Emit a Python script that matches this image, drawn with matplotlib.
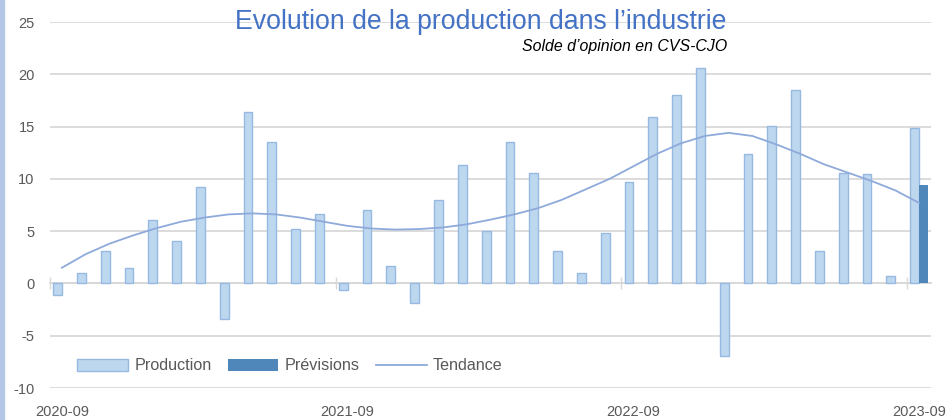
import matplotlib
matplotlib.use("Agg")
import matplotlib.pyplot as plt
from matplotlib.patches import Rectangle
import numpy as np

plt.rcParams['font.family'] = ['Liberation Sans', 'DejaVu Sans']
plt.rcParams['axes.unicode_minus'] = False

# monthly categories 2020-09 .. 2023-09
months = [f"{2020 + (8 + i) // 12}-{(8 + i) % 12 + 1:02d}" for i in range(37)]
production = [-1.1, 1.0, 3.1, 1.5, 6.1, 4.1, 9.2, -3.4, 16.4, 13.5, 5.2, 6.6,
              -0.6, 7.0, 1.7, -1.9, 8.0, 11.3, 5.0, 13.5, 10.6, 3.1, 1.0, 4.8,
              9.7, 15.9, 18.0, 20.6, -6.9, 12.4, 15.1, 18.5, 3.1, 10.6, 10.5, 0.7,
              14.9]
previsions = [np.nan] * 36 + [9.4]
tendance = [1.5, 2.8, 3.8, 4.6, 5.3, 5.9, 6.3, 6.6, 6.7, 6.6, 6.3, 5.9,
            5.5, 5.25, 5.15, 5.2, 5.35, 5.65, 6.1, 6.6, 7.2, 8.0, 9.0, 10.0,
            11.2, 12.4, 13.4, 14.1, 14.4, 14.1, 13.3, 12.4, 11.4, 10.6, 9.8, 8.9,
            7.7]
label_months = ["2020-09", "2021-09", "2022-09", "2023-09"]

x = np.arange(len(months))
W, H = 946, 420
fig = plt.figure(figsize=(W / 100, H / 100), dpi=100)
ax = fig.add_axes([50 / W, 32 / H, 881 / W, 366 / H])

grid_c = '#d9d9d9'
b1 = ax.bar(x - 0.185, production, width=0.37, color='#bdd7ee', edgecolor='#95b9e0',
            linewidth=1.0, label='Production', zorder=3)
b2 = ax.bar(x + 0.185, previsions, width=0.37, color='#4f87ba', label='Prévisions', zorder=3)
l1, = ax.plot(x, tendance, color='#8eaadb', linewidth=1.3, label='Tendance', zorder=4)

ax.set_xlim(-0.5, len(months) - 0.5)
ax.set_ylim(-10, 25)
ax.set_yticks(np.arange(-10, 26, 5))
ax.yaxis.grid(True, color=grid_c, linewidth=1.3)
ax.set_axisbelow(True)
for s in ax.spines.values():
    s.set_visible(False)
ax.tick_params(axis='y', length=0, pad=11, labelsize=10.5, labelcolor='#595959')

idx = [months.index(m) for m in label_months]
ax.set_xticks(idx)
ax.set_xticklabels(label_months)
ax.tick_params(axis='x', length=0, pad=12, labelsize=10.5, labelcolor='#595959')

# zero axis with tick marks at category boundaries
zax = ax.secondary_xaxis(10 / 35)
zax.spines['bottom'].set_color(grid_c)
zax.spines['bottom'].set_linewidth(1.3)
zax.set_xticks([i - 0.5 for i in idx])
zax.set_xticklabels([])
zax.tick_params(axis='x', direction='inout', length=8, width=1.0, color=grid_c)

fig.text(481 / W, 1 - 22 / H, "Evolution de la production dans l’industrie",
         ha='center', va='center', fontsize=19.2, color='#4472c4')
fig.text(727 / W, 1 - 47 / H, "Solde d’opinion en CVS-CJO", ha='right',
         va='center', fontsize=11.4, style='italic', color='black')

fig.legend(handles=[b1, b2, l1], loc='center left',
           bbox_to_anchor=(77 / W, 1 - 366 / H), ncol=3,
           frameon=False, fontsize=11.6, handlelength=3.15, handletextpad=0.4,
           columnspacing=1.0, borderpad=0, borderaxespad=0, labelcolor='#595959')

fig.patches.append(Rectangle((0, 0), 4 / W, 1, transform=fig.transFigure,
                             color='#b4c7e7', zorder=0))

fig.savefig('out.png', dpi=100)
